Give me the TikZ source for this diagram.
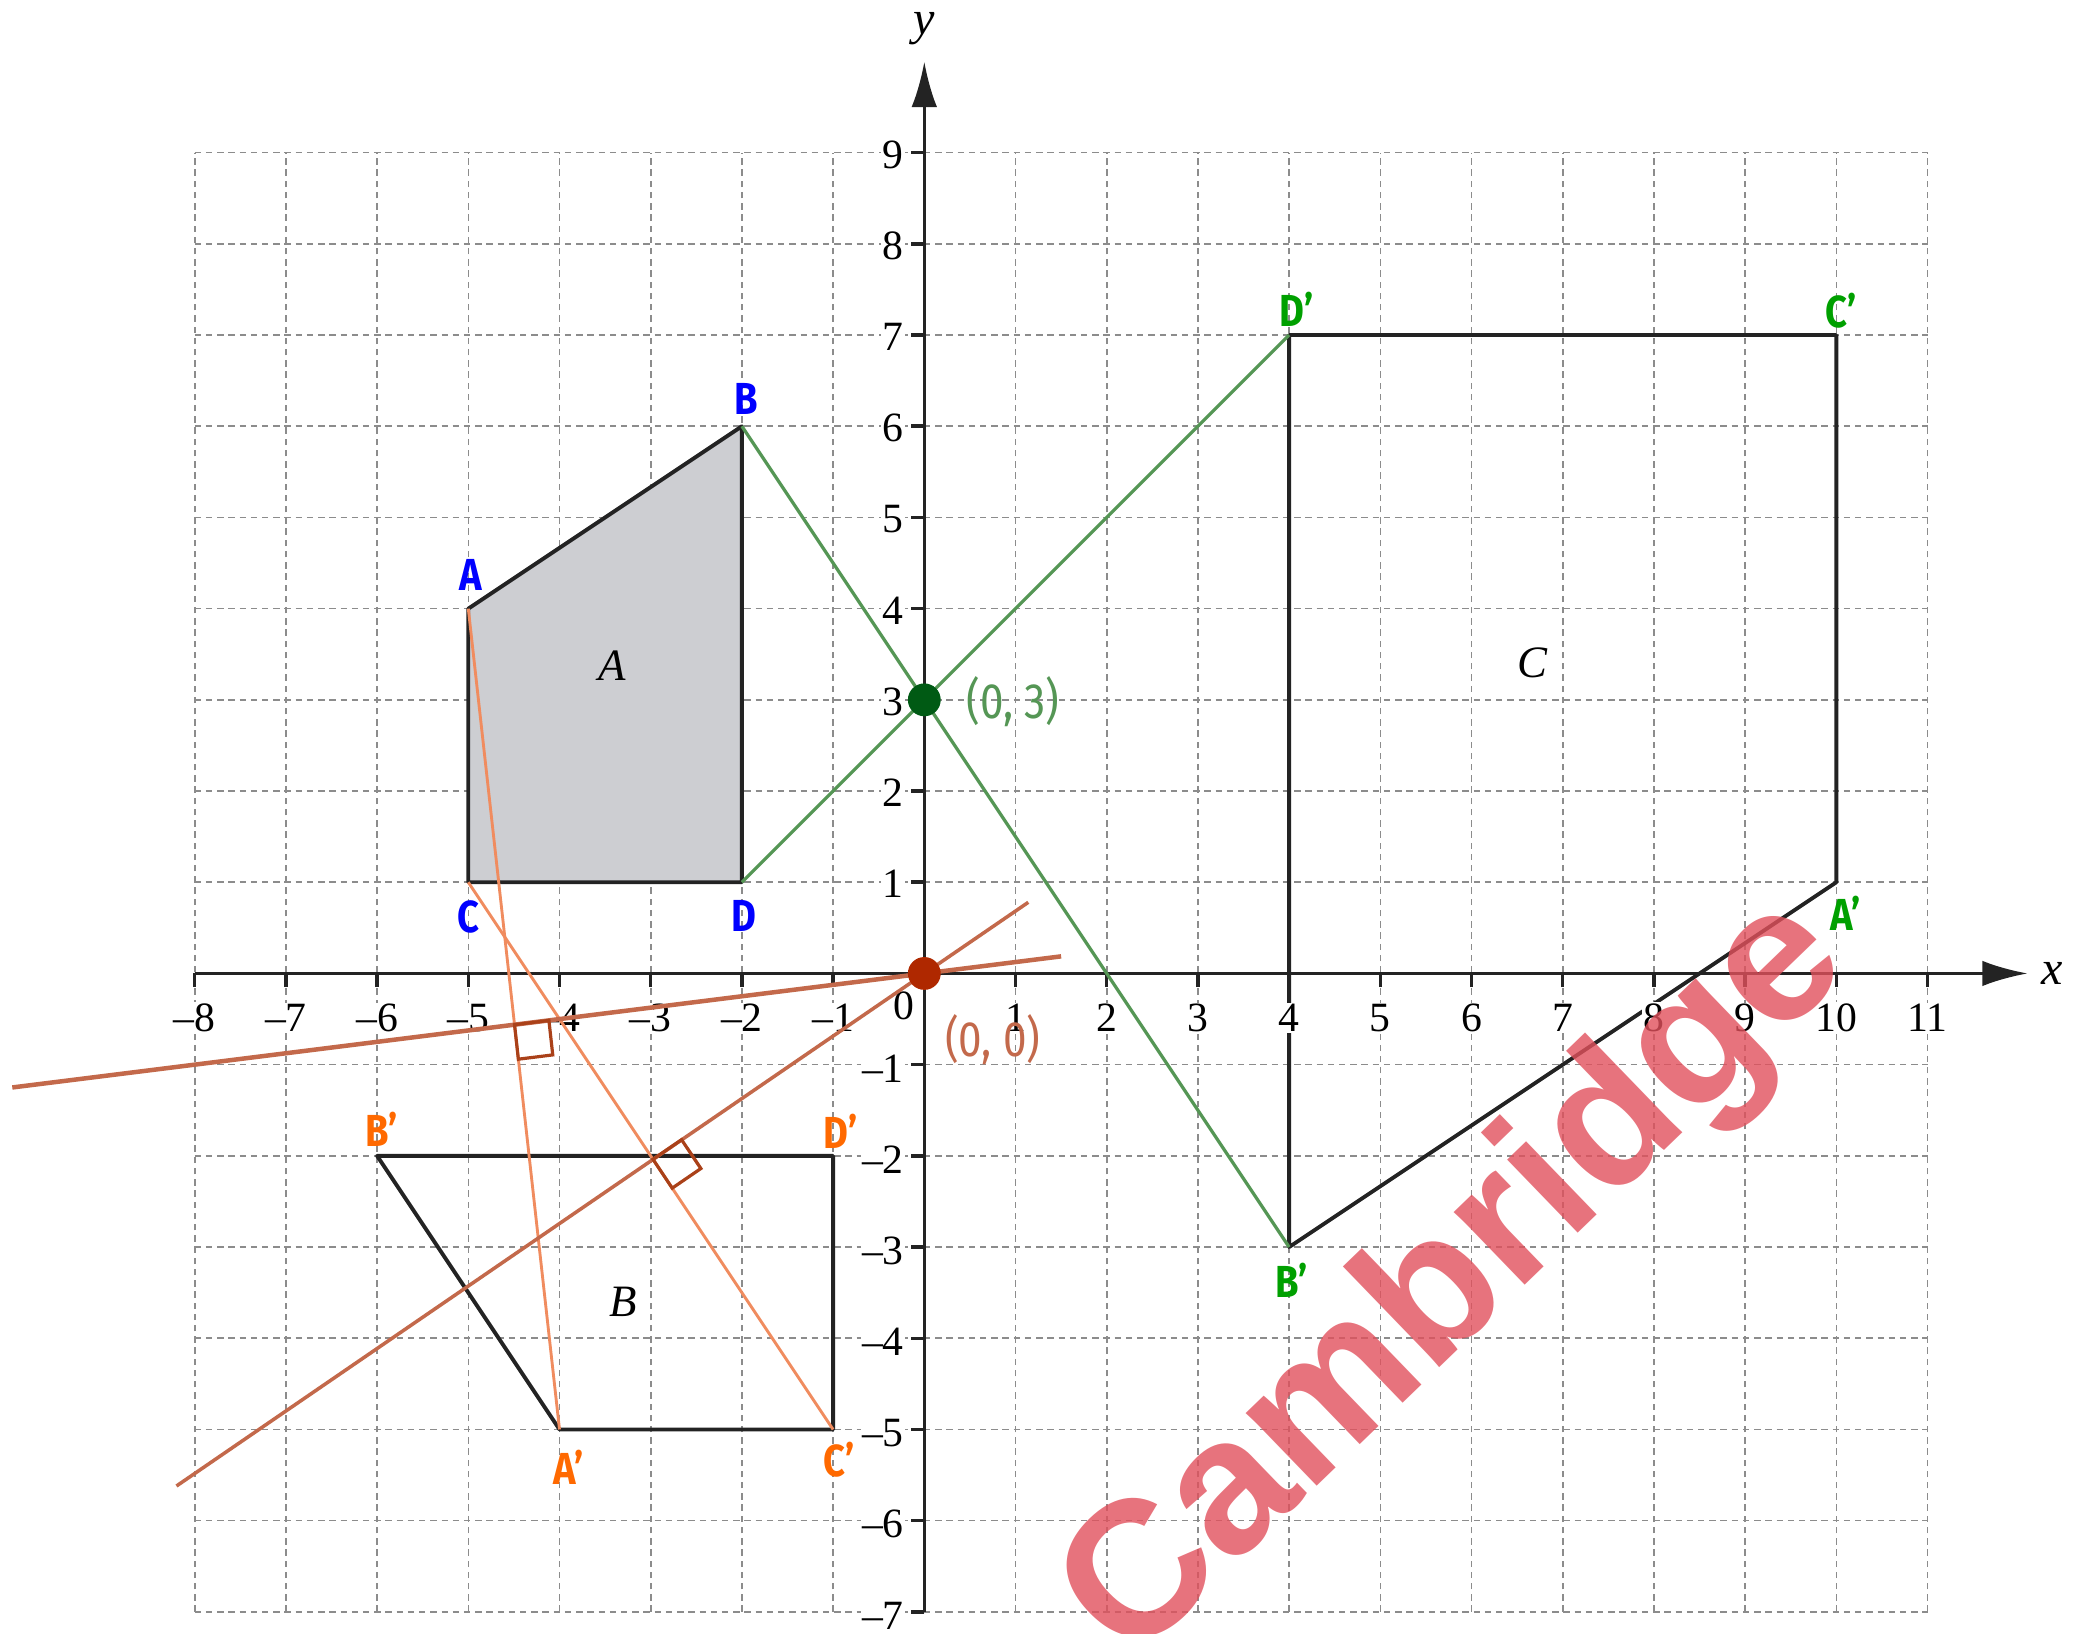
\documentclass[tikz,border=0pt]{standalone}
\usepackage{fontspec}
\setmainfont{Liberation Serif}
\newfontfamily\hand[FakeStretch=0.85]{Fira Sans}
\newfontfamily\wmfont{Liberation Sans}
\usetikzlibrary{arrows.meta,calc}
\definecolor{gridgray}{RGB}{140,140,140}
\definecolor{shadeA}{RGB}{205,206,210}
\definecolor{edgecol}{RGB}{35,35,35}
\definecolor{lblue}{RGB}{0,0,255}
\definecolor{lgreen}{RGB}{0,160,0}
\definecolor{linegreen}{RGB}{85,150,85}
\definecolor{dotgreen}{RGB}{0,90,20}
\definecolor{lorange}{RGB}{255,105,0}
\definecolor{lineorange}{RGB}{240,140,95}
\definecolor{linebrown}{RGB}{195,105,75}
\definecolor{markbrown}{RGB}{170,65,25}
\definecolor{dotbrown}{RGB}{175,40,0}
\definecolor{wmred}{RGB}{225,80,92}
\tikzset{
  gridline/.style={gridgray, line width=0.5pt, dash pattern=on 2pt off 1.5pt},
  axisline/.style={edgecol, line width=1.1pt},
  shapeedge/.style={edgecol, line width=1.2pt, line join=round},
  ticklbl/.style={font=\fontsize{13}{15}\selectfont, fill=white, inner sep=0.5pt},
  handlbl/.style={font=\hand\bfseries\fontsize{14}{16}\selectfont, inner sep=0pt},
  coordlbl/.style={font=\hand\fontsize{15.5}{17}\selectfont, inner sep=0pt},
  shapelbl/.style={font=\itshape\fontsize{14}{16}\selectfont, inner sep=0pt},
  greenline/.style={linegreen, line width=1pt},
  orangeline/.style={lineorange, line width=0.9pt},
  brownline/.style={linebrown, line width=1.1pt},
  rightmark/.style={markbrown, line width=1pt, line join=miter},
}
\begin{document}
\begin{tikzpicture}[x=1cm,y=1cm]
\useasboundingbox (-10.135,-7.242) rectangle (12.617,10.674);

% grid
\draw[gridline] (-8,-7) grid (11,9);

% points
\coordinate (A) at (-5,4);
\coordinate (B) at (-2,6);
\coordinate (C) at (-5,1);
\coordinate (D) at (-2,1);
\coordinate (Ao) at (-4,-5);
\coordinate (Bo) at (-6,-2);
\coordinate (Co) at (-1,-5);
\coordinate (Do) at (-1,-2);
\coordinate (Ag) at (10,1);
\coordinate (Bg) at (4,-3);
\coordinate (Cg) at (10,7);
\coordinate (Dg) at (4,7);
\coordinate (O) at (0,0);
\coordinate (P) at (0,3);

% shapes
\fill[shadeA] (A) -- (B) -- (D) -- (C) -- cycle;
\draw[shapeedge] (A) -- (B) -- (D) -- (C) -- cycle;
\draw[shapeedge] (Bo) -- (Do) -- (Co) -- (Ao) -- cycle;
\draw[shapeedge] (Dg) -- (Cg) -- (Ag) -- (Bg) -- cycle;

% axes
\coordinate (xs) at (-8,0);
\coordinate (xe) at (12.1,0);
\coordinate (ys) at (0,-7);
\coordinate (ye) at (0,10);
\draw[axisline, -{Latex[length=5mm,width=2.8mm]}] (xs) -- (xe);
\draw[axisline, -{Latex[length=5mm,width=2.8mm]}] (ys) -- (ye);
\foreach \i in {-8,...,-1,1,2,...,11}{
  \draw[axisline] (\i,0) -- (\i,-0.15);
}
\foreach \i in {-7,...,-1,1,2,...,9}{
  \draw[axisline] (0,\i) -- (-0.15,\i);
}
\node[font=\itshape\fontsize{15}{17}\selectfont, inner sep=0pt] (xlab) at (12.37,0) {x};
\node[font=\itshape\fontsize{15}{17}\selectfont, inner sep=0pt] (ylab) at (0,10.36) {y};

% tick labels
\foreach \i in {-8,...,-1}{
  \pgfmathtruncatemacro\k{-\i}
  \node[ticklbl] (tx\i) at (\i,-0.49) {\textendash\k};
}
\foreach \i in {1,...,11}{
  \node[ticklbl] (tx\i) at (\i,-0.49) {\i};
}
\foreach \i in {-7,...,-1}{
  \pgfmathtruncatemacro\k{-\i}
  \node[ticklbl, anchor=east] (ty\i) at (-0.2,\i-0.04) {\textendash\k};
}
\foreach \i in {1,...,9}{
  \node[ticklbl, anchor=east] (ty\i) at (-0.2,\i-0.02) {\i};
}
\node[ticklbl] (t0) at (-0.22,-0.36) {0};

% orange connectors
\draw[orangeline] (A) -- (Ao);
\draw[orangeline] (C) -- (Co);

% green connectors
\draw[greenline] (B) -- (Bg);
\draw[greenline] (D) -- (Dg);

% mirror lines
\coordinate (m1a) at (-10,-1.25);
\coordinate (m1b) at (1.5,0.1875);
\coordinate (m2a) at (-8.2,-5.62);
\coordinate (m2b) at (1.14,0.78);
\draw[brownline, line width=1.4pt] (m1a) -- (m1b);
\draw[brownline] (m2a) -- (m2b);

% right-angle markers
\coordinate (F1) at (-4.493,-0.562);
\coordinate (F2) at (-2.975,-2.038);
\draw[rightmark] (F1) -- ++(0.377,0.047) -- ++(0.042,-0.378) -- ++(-0.377,-0.047) -- cycle;
\draw[rightmark] (F2) -- ++(0.314,0.215) -- ++(0.211,-0.316) -- ++(-0.314,-0.215) -- cycle;

% dots
\fill[dotgreen] (P) circle (0.18);
\fill[dotbrown] (O) circle (0.18);

% labels
\node[handlbl, text=lblue] (lA) at (-4.97,4.37) {A};
\node[handlbl, text=lblue] (lB) at (-1.95,6.3) {B};
\node[handlbl, text=lblue] (lC) at (-5,0.62) {C};
\node[handlbl, text=lblue] (lD) at (-1.98,0.63) {D};
\node[handlbl, text=lorange] (lBo) at (-5.95,-1.71) {B\textquoteright};
\node[handlbl, text=lorange] (lDo) at (-0.92,-1.73) {D\textquoteright};
\node[handlbl, text=lorange] (lAo) at (-3.9,-5.42) {A\textquoteright};
\node[handlbl, text=lorange] (lCo) at (-0.93,-5.33) {C\textquoteright};
\node[handlbl, text=lgreen] (lDg) at (4.08,7.28) {D\textquoteright};
\node[handlbl, text=lgreen] (lCg) at (10.05,7.27) {C\textquoteright};
\node[handlbl, text=lgreen] (lAg) at (10.1,0.66) {A\textquoteright};
\node[handlbl, text=lgreen] (lBg) at (4.03,-3.37) {B\textquoteright};
\node[coordlbl, text=linegreen] (lP) at (0.97,2.98) {(0, 3)};
\node[coordlbl, text=linebrown] (lO) at (0.75,-0.73) {(0, 0)};

\node[shapelbl] (sA) at (-3.42,3.38) {A};
\node[shapelbl] (sB) at (-3.3,-3.6) {B};
\node[shapelbl] (sC) at (6.67,3.41) {C};

% watermark
\node[rotate=44, text=wmred, opacity=0.8, inner sep=0pt,
      font=\wmfont\bfseries\fontsize{60}{60}\selectfont] (wm) at (5.85,-3.38) {Cambridge};
\end{tikzpicture}
\end{document}
